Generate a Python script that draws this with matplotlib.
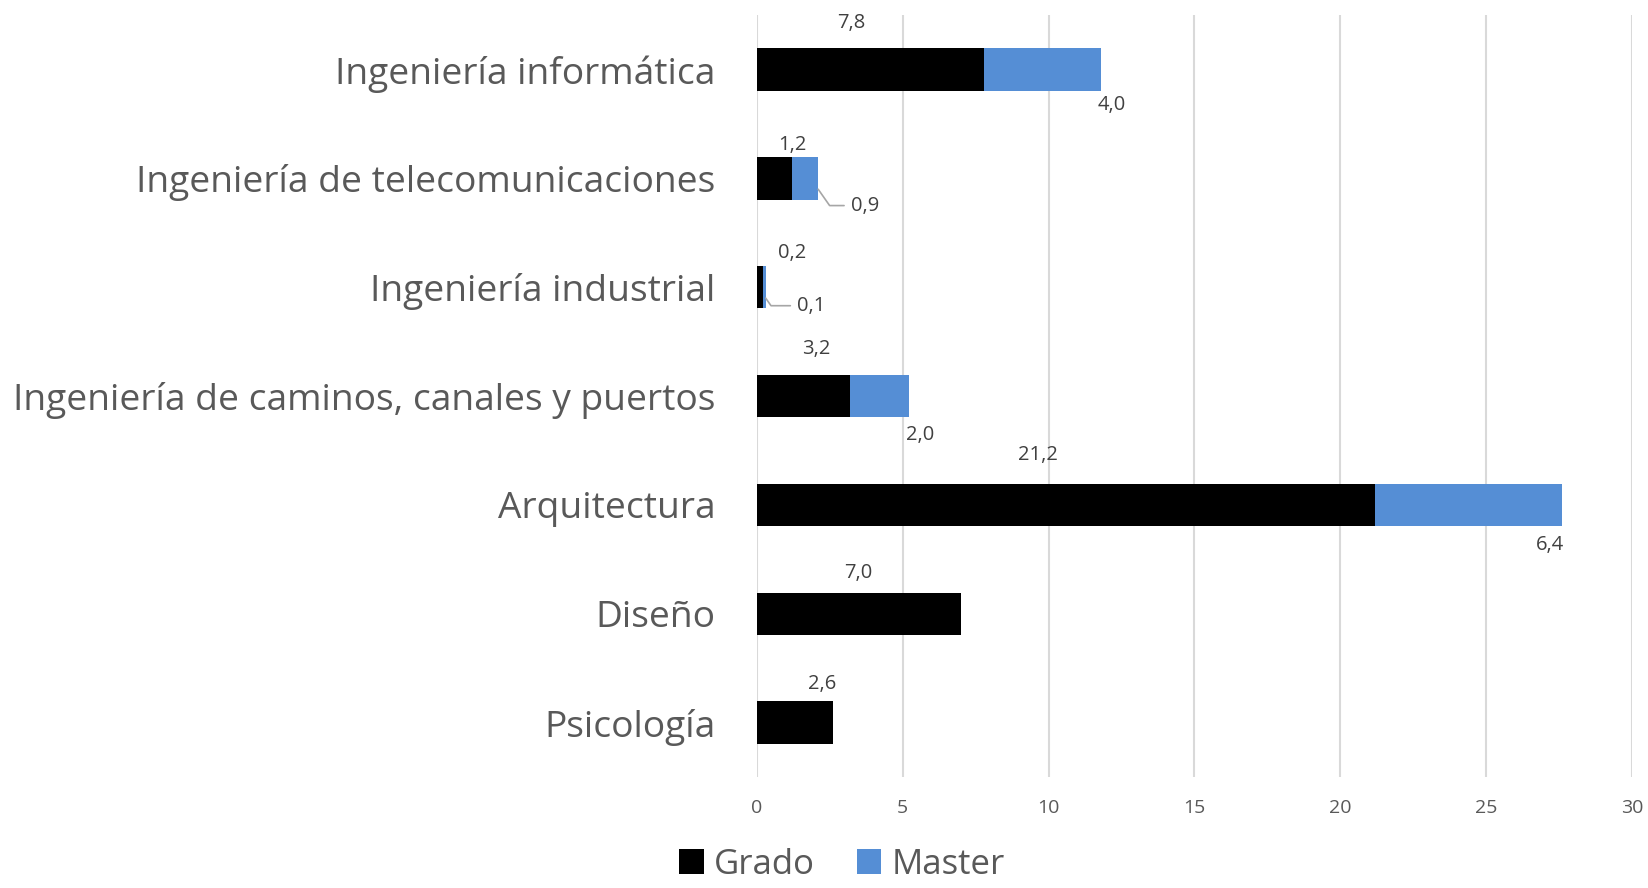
import numpy as np
import matplotlib.pyplot as plt

plt.rcParams['font.family'] = ['Open Sans', 'DejaVu Sans']

# Data
carreras = ["Ingeniería informática", "Ingeniería de telecomunicaciones",
            "Ingeniería industrial", "Ingeniería de caminos, canales y puertos",
            "Arquitectura", "Diseño", "Psicología"]
grado = [7.8, 1.2, 0.2, 3.2, 21.2, 7.0, 2.6]
master = [4.0, 0.9, 0.1, 2.0, 6.4, 0.0, 0.0]

# Label placement (data x, offset in category units) as dragged in the original
grado_lbl_x = [3.24, 1.22, 1.19, 2.02, 9.65, 3.49, 2.23]
grado_lbl_dy = [-0.43, -0.31, -0.31, -0.43, -0.46, -0.375, -0.35]
master_lbl_x = [12.17, 3.71, 1.87, 5.58, 27.19, None, None]
master_lbl_dy = [0.33, 0.25, 0.17, 0.36, 0.37, None, None]
leader = [False, True, True, False, False, False, False]

c_grado = "#000000"
c_master = "#558ED5"

fig = plt.figure(figsize=(16.48, 8.88), dpi=100)
ax = fig.add_axes([0.4593, 0.125, 0.531, 0.858])

y = np.arange(len(carreras))
h = 0.39
ax.barh(y, grado, height=h, color=c_grado, label="Grado", zorder=3)
ax.barh(y, master, left=grado, height=h, color=c_master, label="Master", zorder=3)

for i in range(len(carreras)):
    ax.text(grado_lbl_x[i], y[i] + grado_lbl_dy[i], f"{grado[i]:.1f}".replace(".", ","),
            ha="center", va="center", fontsize=14.5, color="#404040")
    if master[i] > 0:
        txt = f"{master[i]:.1f}".replace(".", ",")
        if leader[i]:
            ax.annotate(txt, xy=(grado[i] + master[i], y[i] + 0.1),
                        xytext=(master_lbl_x[i], y[i] + master_lbl_dy[i]),
                        ha="center", va="center", fontsize=14.5, color="#404040",
                        arrowprops=dict(arrowstyle="-", color="#a6a6a6", lw=1.2,
                                        shrinkA=3, shrinkB=0,
                                        connectionstyle="angle,angleA=0,angleB=-55,rad=0"))
        else:
            ax.text(master_lbl_x[i], y[i] + master_lbl_dy[i], txt,
                    ha="center", va="center", fontsize=14.5, color="#404040")

ax.set_xlim(0, 30)
ax.set_ylim(len(carreras) - 0.5, -0.5)
ax.set_xticks(np.arange(0, 31, 5))
ax.set_yticks(y)
ax.set_yticklabels(carreras, fontsize=26.7, color="#595959")
ax.tick_params(axis="y", length=0, pad=30)
ax.tick_params(axis="x", length=0, pad=16, labelsize=14, labelcolor="#595959")
ax.grid(axis="x", color="#d9d9d9", lw=1.5, zorder=0)
for s in ax.spines.values():
    s.set_visible(False)

fig.legend(loc="lower center", bbox_to_anchor=(0.511, -0.028), ncol=2, frameon=False,
           fontsize=25, labelcolor="#595959", handlelength=0.7, handleheight=0.7,
           handletextpad=0.3, columnspacing=1.2)

fig.savefig("out.png", dpi=100)
